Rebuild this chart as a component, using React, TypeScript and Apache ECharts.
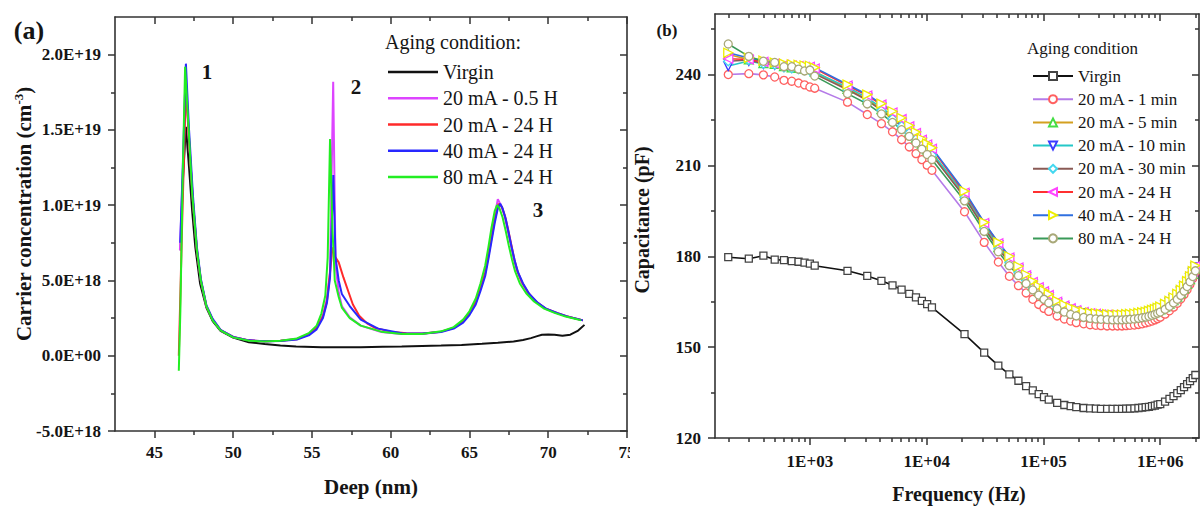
import React, { useEffect, useRef } from "react";
import * as echarts from "echarts";

const SERIF = '"Liberation Serif", "Times New Roman", serif';
const AX = "#333";
const TXT = "#151515";

// ---------- Panel (a): carrier concentration vs depth (values in 1E18 cm^-3) ----------
const deepTicks = [45, 50, 55, 60, 65, 70, 75];
const deepMinorTicks = [47.5, 52.5, 57.5, 62.5, 67.5, 72.5];
const carrierTicks = [-5, 0, 5, 10, 15, 20];
const carrierMinorTicks = [-2.5, 2.5, 7.5, 12.5, 17.5];
const deepNames = ["Virgin", "20 mA - 0.5 H", "20 mA - 24 H", "40 mA - 24 H", "80 mA - 24 H"];
const deepColors = ["#111111", "#dd44ff", "#ff2a2a", "#2828ff", "#22ee22"];

const virginDeep: [number, number][] = [
  [46.66, 7.0], [46.8, 11.5], [47.0, 15.2], [47.2, 12.5], [47.4, 9.6], [47.6, 7.2], [47.9, 4.8],
  [48.3, 3.2], [48.7, 2.3], [49.2, 1.65], [50.0, 1.2], [51.0, 0.9], [52.0, 0.78], [53.0, 0.68],
  [54.0, 0.62], [55.6, 0.57], [57.0, 0.56], [58.1, 0.57], [59.5, 0.6], [60.7, 0.62], [62.0, 0.65],
  [63.2, 0.68], [64.5, 0.72], [65.8, 0.79], [66.8, 0.86], [67.8, 0.95], [68.4, 1.05], [68.9, 1.17],
  [69.3, 1.3], [69.6, 1.39], [70.0, 1.41], [70.4, 1.39], [70.9, 1.32], [71.4, 1.4], [71.9, 1.67],
  [72.3, 2.05],
];
const mA20h05Deep: [number, number][] = [
  [46.62, 7.0], [46.8, 12.0], [47.0, 18.0], [47.2, 14.5], [47.45, 10.2], [47.7, 7.0], [47.95, 5.0],
  [48.3, 3.3], [48.7, 2.4], [49.2, 1.7], [50.0, 1.25], [51.0, 1.02], [52.0, 0.95], [53.0, 1.0],
  [54.05, 1.12], [54.8, 1.45], [55.3, 1.9], [55.7, 2.7], [55.95, 3.8], [56.15, 5.6], [56.35, 18.2],
  [56.5, 6.0], [56.7, 4.2], [56.9, 3.3], [57.4, 2.55], [58.1, 2.0], [59.4, 1.58], [60.7, 1.45],
  [62.0, 1.45], [63.2, 1.6], [64.0, 1.85], [64.6, 2.3], [65.0, 2.8], [65.4, 3.6], [65.7, 4.5],
  [66.0, 5.6], [66.2, 6.8], [66.4, 8.0], [66.6, 9.3], [66.8, 10.4], [67.0, 10.0], [67.2, 9.4],
  [67.4, 8.5], [67.6, 7.5], [67.8, 6.5], [68.0, 5.7], [68.3, 4.9], [68.7, 4.2], [69.2, 3.6],
  [69.8, 3.15], [70.5, 2.85], [71.2, 2.6], [71.8, 2.45], [72.2, 2.35],
];
const mA20h24Deep: [number, number][] = [
  [46.55, 0], [46.78, 9.5], [47.0, 17.8], [47.2, 14.3], [47.45, 10.2], [47.7, 7.0], [47.95, 5.0],
  [48.3, 3.3], [48.7, 2.4], [49.2, 1.7], [50.0, 1.25], [51.0, 1.02], [52.0, 0.96], [53.0, 1.0],
  [54.05, 1.1], [54.8, 1.4], [55.3, 1.85], [55.7, 2.6], [55.95, 3.6], [56.15, 5.5], [56.3, 7.2],
  [56.45, 6.6], [56.7, 6.2], [57.0, 5.2], [57.3, 4.3], [57.6, 3.4], [58.0, 2.65], [58.5, 2.15],
  [59.0, 1.85], [60.0, 1.6], [61.0, 1.5], [62.0, 1.48], [63.2, 1.6], [64.0, 1.84], [64.6, 2.28],
  [65.0, 2.78], [65.4, 3.55], [65.7, 4.45], [66.0, 5.5], [66.2, 6.6], [66.4, 7.8], [66.6, 9.0],
  [66.85, 10.1], [67.05, 9.9], [67.25, 9.3], [67.45, 8.4], [67.65, 7.4], [67.85, 6.4], [68.05, 5.6],
  [68.35, 4.85], [68.75, 4.15], [69.25, 3.58], [69.85, 3.12], [70.55, 2.84], [71.25, 2.6],
  [71.8, 2.45], [72.2, 2.35],
];
const mA40h24Deep: [number, number][] = [
  [46.64, 7.5], [46.8, 12.5], [47.0, 19.4], [47.2, 15.0], [47.45, 10.6], [47.7, 7.2], [47.95, 5.1],
  [48.3, 3.35], [48.7, 2.45], [49.2, 1.72], [50.0, 1.25], [51.0, 1.02], [52.0, 0.96], [53.0, 0.98],
  [54.05, 1.08], [54.8, 1.35], [55.3, 1.75], [55.7, 2.5], [55.95, 3.5], [56.15, 5.2], [56.36, 12.0],
  [56.5, 6.5], [56.7, 5.0], [56.9, 4.1], [57.4, 3.3], [58.1, 2.4], [59.2, 1.8], [60.7, 1.5],
  [62.0, 1.48], [63.2, 1.58], [64.0, 1.8], [64.6, 2.2], [65.0, 2.7], [65.4, 3.4], [65.7, 4.3],
  [66.0, 5.3], [66.2, 6.4], [66.4, 7.6], [66.6, 8.8], [66.8, 9.8], [66.95, 10.1], [67.1, 9.8],
  [67.3, 9.1], [67.5, 8.1], [67.7, 7.1], [67.9, 6.2], [68.1, 5.5], [68.4, 4.8], [68.8, 4.1],
  [69.3, 3.55], [69.9, 3.1], [70.6, 2.82], [71.3, 2.58], [71.8, 2.45], [72.2, 2.35],
];
const mA80h24Deep: [number, number][] = [
  [46.55, -1.0], [46.65, 3.0], [46.8, 12.0], [46.95, 19.2], [47.15, 15.5], [47.4, 10.8], [47.7, 7.0],
  [47.95, 5.0], [48.3, 3.3], [48.7, 2.35], [49.2, 1.68], [50.0, 1.22], [51.0, 1.0], [52.0, 0.95],
  [53.0, 1.0], [54.05, 1.15], [54.8, 1.5], [55.3, 2.0], [55.6, 2.8], [55.85, 4.0], [56.0, 6.5],
  [56.15, 14.4], [56.3, 8.5], [56.45, 5.0], [56.7, 3.9], [56.9, 3.2], [57.4, 2.5], [58.1, 2.0],
  [59.4, 1.6], [60.7, 1.45], [62.0, 1.45], [63.2, 1.62], [64.0, 1.9], [64.6, 2.4], [65.0, 2.95],
  [65.4, 3.8], [65.7, 4.8], [66.0, 6.0], [66.2, 7.2], [66.4, 8.5], [66.6, 9.6], [66.75, 10.0],
  [66.9, 9.8], [67.1, 9.2], [67.3, 8.3], [67.5, 7.3], [67.7, 6.4], [67.9, 5.6], [68.2, 4.8],
  [68.6, 4.15], [69.1, 3.6], [69.7, 3.15], [70.4, 2.85], [71.1, 2.6], [71.7, 2.45], [72.1, 2.35],
];
const deepSeries = [virginDeep, mA20h05Deep, mA20h24Deep, mA40h24Deep, mA80h24Deep];

// ---------- Panel (b): capacitance vs frequency ----------
const FREQ_MIN = 154;
const FREQ_MAX = 2.15e6;
const freqMajorTicks = [1e3, 1e4, 1e5, 1e6];
const freqMinorTicks = [
  200, 300, 400, 500, 600, 700, 800, 900,
  2000, 3000, 4000, 5000, 6000, 7000, 8000, 9000,
  20000, 30000, 40000, 50000, 60000, 70000, 80000, 90000,
  200000, 300000, 400000, 500000, 600000, 700000, 800000, 900000, 2000000,
];
const capTicks = [120, 150, 180, 210, 240];
const capMinorTicks = [135, 165, 195, 225, 255];

const freqHz = [
  200, 300, 400, 500, 600, 700, 800, 900, 1000, 1100,
  2100, 3100, 4100, 5100, 6100, 7100, 8100, 9100, 10100, 11100,
  21100, 31100, 41100, 51100, 61100, 71100, 81100, 91100, 101100, 111100,
  131100, 151100, 171100, 191100, 221100, 251100, 281100, 311100, 351100, 391100, 431100,
  471100, 511100, 551100, 601100, 651100, 701100, 751100, 801100, 851100, 901100, 951100,
  1001100, 1101100, 1201100, 1301100, 1401100, 1501100, 1601100, 1701100, 1801100, 1901100, 2001100,
];
const capVirgin = [
  179.7, 179.2, 180.2, 178.9, 178.7, 178.4, 178.2, 177.9, 177.6, 176.9,
  175.2, 173.5, 171.9, 170.4, 169.0, 167.6, 166.4, 165.3, 164.2, 163.1,
  154.3, 148.2, 143.9, 141.0, 138.9, 137.1, 135.7, 134.5, 133.5, 132.7,
  131.6, 130.9, 130.5, 130.2, 129.9, 129.8, 129.7, 129.6, 129.6, 129.6, 129.6,
  129.6, 129.7, 129.7, 129.8, 129.9, 130.0, 130.2, 130.3, 130.5, 130.7, 131.0,
  131.2, 132.0, 132.9, 133.8, 134.8, 135.8, 136.8, 137.8, 138.8, 139.8, 140.8,
];
const cap20m1 = [
  240.0, 240.3, 239.9, 239.2, 238.1, 237.8, 237.2, 236.6, 235.9, 235.5,
  230.9, 226.8, 223.8, 221.1, 218.5, 216.1, 213.9, 211.9, 210.1, 208.4,
  194.7, 184.6, 178.1, 173.4, 170.3, 167.9, 165.8, 164.1, 162.8, 161.8,
  160.3, 159.3, 158.6, 158.1, 157.7, 157.4, 157.2, 157.1, 157.0, 157.0, 157.0,
  157.0, 157.1, 157.2, 157.3, 157.5, 157.7, 158.0, 158.3, 158.6, 159.0, 159.4,
  159.9, 160.9, 162.0, 163.2, 164.5, 165.9, 167.4, 169.0, 170.8, 172.7, 174.8,
];
const cap20m5 = [
  246.6, 245.0, 243.8, 243.5, 242.8, 242.4, 242.2, 242.0, 241.8, 241.0,
  235.3, 231.8, 228.6, 225.8, 223.4, 221.2, 219.1, 217.1, 215.3, 213.8,
  200.0, 189.8, 183.0, 178.4, 175.1, 172.5, 170.3, 168.6, 167.2, 166.0,
  164.0, 162.8, 162.0, 161.4, 160.9, 160.5, 160.3, 160.1, 160.0, 159.9, 159.9,
  159.9, 160.0, 160.1, 160.2, 160.4, 160.6, 160.8, 161.1, 161.4, 161.7, 162.1,
  162.5, 163.4, 164.4, 165.5, 166.7, 168.0, 169.4, 170.9, 172.5, 174.2, 176.0,
];
const cap20m10 = [
  242.8, 244.5, 243.5, 243.2, 242.6, 242.3, 242.0, 241.8, 241.6, 240.8,
  235.8, 232.3, 229.1, 226.3, 223.9, 221.7, 219.6, 217.6, 215.8, 214.3,
  200.5, 190.4, 183.6, 178.9, 175.6, 173.0, 170.8, 169.1, 167.7, 166.5,
  164.4, 163.2, 162.3, 161.7, 161.2, 160.8, 160.6, 160.4, 160.3, 160.2, 160.2,
  160.2, 160.3, 160.4, 160.5, 160.7, 160.9, 161.1, 161.4, 161.7, 162.0, 162.4,
  162.8, 163.7, 164.7, 165.8, 167.0, 168.3, 169.7, 171.2, 172.8, 174.5, 176.3,
];
const cap20m30 = [
  244.4, 244.8, 243.6, 243.3, 242.4, 242.1, 241.8, 241.5, 241.3, 240.3,
  235.0, 231.5, 228.2, 225.4, 223.0, 220.8, 218.7, 216.7, 214.9, 213.4,
  199.5, 189.3, 182.5, 177.9, 174.6, 172.0, 169.8, 168.1, 166.7, 165.5,
  163.5, 162.3, 161.5, 160.9, 160.4, 160.1, 159.9, 159.7, 159.6, 159.5, 159.5,
  159.5, 159.6, 159.7, 159.8, 160.0, 160.2, 160.4, 160.7, 161.0, 161.3, 161.7,
  162.1, 163.0, 164.0, 165.1, 166.3, 167.6, 169.0, 170.5, 172.1, 173.8, 175.6,
];
const cap20h24 = [
  245.2, 245.0, 244.2, 243.6, 243.2, 243.0, 242.8, 242.6, 242.6, 242.0,
  236.4, 233.1, 230.1, 227.5, 225.3, 222.9, 220.7, 218.5, 216.9, 215.5,
  201.0, 191.0, 184.3, 179.6, 176.3, 173.7, 171.5, 169.8, 168.4, 167.2,
  165.0, 163.7, 162.8, 162.2, 161.6, 161.2, 161.0, 160.8, 160.7, 160.6, 160.6,
  160.6, 160.7, 160.8, 160.9, 161.1, 161.3, 161.5, 161.8, 162.1, 162.4, 162.8,
  163.2, 164.1, 165.1, 166.2, 167.4, 168.7, 170.1, 171.6, 173.2, 174.9, 176.7,
];
const cap40h24 = [
  247.2, 245.5, 244.6, 244.0, 243.6, 243.4, 243.2, 243.0, 242.9, 242.3,
  236.7, 233.4, 230.4, 227.9, 225.7, 223.2, 221.0, 218.8, 217.2, 215.8,
  201.5, 191.2, 184.6, 180.0, 176.7, 174.0, 171.8, 170.1, 168.7, 167.5,
  165.3, 164.0, 163.1, 162.4, 161.8, 161.4, 161.2, 161.0, 160.9, 160.8, 160.8,
  160.8, 160.9, 161.0, 161.1, 161.3, 161.5, 161.7, 162.0, 162.3, 162.6, 163.0,
  163.4, 164.3, 165.3, 166.4, 167.6, 168.9, 170.3, 171.8, 173.4, 175.1, 176.9,
];
const cap80h24 = [
  250.1, 246.0, 244.4, 244.0, 242.6, 242.6, 241.8, 241.2, 241.5, 239.5,
  233.7, 230.3, 227.0, 224.2, 221.8, 219.6, 217.4, 215.4, 213.6, 211.9,
  198.3, 188.2, 181.5, 176.9, 173.6, 171.0, 168.9, 167.2, 165.8, 164.6,
  162.7, 161.6, 160.8, 160.3, 159.8, 159.5, 159.3, 159.2, 159.1, 159.0, 159.0,
  159.0, 159.1, 159.2, 159.3, 159.5, 159.7, 159.9, 160.2, 160.5, 160.8, 161.2,
  161.6, 162.5, 163.5, 164.6, 165.8, 167.1, 168.5, 170.0, 171.6, 173.3, 175.2,
];
const capNames = [
  "Virgin", "20 mA - 1 min", "20 mA - 5 min", "20 mA - 10 min",
  "20 mA - 30 min", "20 mA - 24 H", "40 mA - 24 H", "80 mA - 24 H",
];
const capValues = [capVirgin, cap20m1, cap20m5, cap20m10, cap20m30, cap20h24, cap40h24, cap80h24];
const capLineColors = ["#111111", "#b57be8", "#d4a020", "#25c8c8", "#8a5a55", "#ff3030", "#3070e0", "#3a9a58"];
const capMarkColors = ["#444444", "#ff6060", "#44dd44", "#3b3bff", "#44d8f0", "#ff44ff", "#eeee00", "#a8a878"];
const capSymbols = ["rect", "circle", "triangle", "triangle", "diamond", "triangle", "triangle", "circle"];
const capRotate = [0, 0, 0, 180, 0, 90, -90, 0];
const capSizes = [7, 8, 9, 9, 9, 9, 9, 8];

// ---------- helpers ----------
function sci(v: number): string {
  if (Math.abs(v) < 1e-9) return "0.0E+00";
  const val = v * 1e18;
  const exp = Math.floor(Math.log10(Math.abs(val)) + 1e-9);
  const mant = val / Math.pow(10, exp);
  return `${mant.toFixed(1)}E+${exp}`;
}

const labelBase = { color: TXT, fontFamily: SERIF, fontWeight: 700, fontSize: 17 };

function frameAxis(o: any) {
  return {
    type: o.type || "value",
    logBase: 10,
    position: o.position,
    min: o.min,
    max: o.max,
    silent: true,
    axisLine: { show: !!o.line, onZero: false, lineStyle: { color: AX, width: 1.6 } },
    axisTick: o.ticks
      ? { show: true, customValues: o.ticks, length: o.len, inside: !!o.inside, lineStyle: { color: AX, width: 1.5 } }
      : { show: false },
    axisLabel: o.labels ? { show: true, ...labelBase, ...o.labels } : { show: false },
    splitLine: { show: false },
    minorTick: { show: false },
    axisPointer: { show: false },
  };
}

function txt(x: number, y: number, text: string, size: number, extra: any = {}) {
  return {
    type: "text",
    x,
    y,
    silent: true,
    rotation: extra.rotation || 0,
    style: {
      text,
      fill: TXT,
      fontFamily: SERIF,
      fontSize: size,
      fontWeight: extra.weight || "bold",
      align: extra.align || "center",
      verticalAlign: "middle",
    },
  };
}

// ---------- options ----------
const optionA: any = {
  animation: false,
  grid: { left: 115, right: 3, top: 17, bottom: 76, containLabel: false, outerBoundsMode: "none" },
  xAxis: [
    frameAxis({ position: "bottom", min: 42.5, max: 75, line: true, ticks: deepTicks, len: 7,
      labels: { customValues: deepTicks, margin: 13 } }),
    frameAxis({ position: "bottom", min: 42.5, max: 75, ticks: deepMinorTicks, len: 4 }),
    frameAxis({ position: "top", min: 42.5, max: 75, line: true, ticks: deepTicks, len: 7, inside: true }),
    frameAxis({ position: "top", min: 42.5, max: 75, ticks: deepMinorTicks, len: 4, inside: true }),
  ],
  yAxis: [
    frameAxis({ position: "left", min: -5, max: 22.5, line: true, ticks: carrierTicks, len: 7,
      labels: { customValues: carrierTicks, margin: 14, formatter: (v: number) => sci(v) } }),
    frameAxis({ position: "left", min: -5, max: 22.5, ticks: carrierMinorTicks, len: 4 }),
    frameAxis({ position: "right", min: -5, max: 22.5, line: true, ticks: carrierTicks, len: 7, inside: true }),
    frameAxis({ position: "right", min: -5, max: 22.5, ticks: carrierMinorTicks, len: 4, inside: true }),
  ],
  legend: {
    orient: "vertical",
    left: 383,
    top: 54,
    itemWidth: 50,
    itemHeight: 2.5,
    itemGap: 0,
    icon: "rect",
    selectedMode: false,
    textStyle: { color: TXT, fontFamily: SERIF, fontSize: 20, lineHeight: 26.2 },
    data: deepNames,
  },
  series: deepSeries.map((d, i) => ({
    type: "line",
    name: deepNames[i],
    data: d,
    symbol: "none",
    xAxisIndex: 0,
    yAxisIndex: 0,
    lineStyle: { color: deepColors[i], width: 2 },
    itemStyle: { color: deepColors[i] },
    silent: true,
  })),
  graphic: [
    txt(29, 30, "(a)", 26),
    txt(207, 72, "1", 21),
    txt(356, 87, "2", 21),
    txt(538, 210, "3", 21),
    txt(385, 42, "Aging condition:", 20, { align: "left", weight: "normal" }),
    txt(371, 487, "Deep (nm)", 21),
    {
      type: "text",
      x: 24,
      y: 214,
      rotation: Math.PI / 2,
      silent: true,
      style: {
        text: "{t|Carrier concentration (cm}{s|-3}{t|)}",
        align: "center",
        verticalAlign: "middle",
        rich: {
          t: { fontFamily: SERIF, fontWeight: "bold", fontSize: 21, fill: TXT, lineHeight: 24 },
          s: { fontFamily: SERIF, fontWeight: "bold", fontSize: 13, fill: TXT, lineHeight: 13, verticalAlign: "top" },
        },
      },
    },
  ],
};

const lmin = Math.log10(FREQ_MIN);
const lmax = Math.log10(FREQ_MAX);
const optionB: any = {
  animation: false,
  grid: { left: 85, right: 1, top: 14, bottom: 69, containLabel: false, outerBoundsMode: "none" },
  xAxis: [
    frameAxis({ type: "log", position: "bottom", min: FREQ_MIN, max: FREQ_MAX, line: true }),
    frameAxis({ position: "bottom", min: lmin, max: lmax, ticks: freqMajorTicks.map(Math.log10), len: 7,
      labels: { customValues: freqMajorTicks.map(Math.log10), margin: 15,
        formatter: (v: number) => "1E+" + String(Math.round(v)).padStart(2, "0") } }),
    frameAxis({ position: "bottom", min: lmin, max: lmax, ticks: freqMinorTicks.map(Math.log10), len: 4 }),
    frameAxis({ position: "top", min: lmin, max: lmax, line: true, ticks: freqMajorTicks.map(Math.log10), len: 7, inside: true }),
    frameAxis({ position: "top", min: lmin, max: lmax, ticks: freqMinorTicks.map(Math.log10), len: 4, inside: true }),
  ],
  yAxis: [
    frameAxis({ position: "left", min: 120, max: 260, line: true, ticks: capTicks, len: 7,
      labels: { customValues: capTicks, margin: 14 } }),
    frameAxis({ position: "left", min: 120, max: 260, ticks: capMinorTicks, len: 4 }),
    frameAxis({ position: "right", min: 120, max: 260, line: true, ticks: capTicks, len: 7, inside: true }),
    frameAxis({ position: "right", min: 120, max: 260, ticks: capMinorTicks, len: 4, inside: true }),
  ],
  legend: {
    orient: "vertical",
    left: 397,
    top: 59.4,
    itemWidth: 40,
    itemHeight: 10,
    itemGap: 0,
    selectedMode: false,
    textStyle: { color: TXT, fontFamily: SERIF, fontSize: 17, lineHeight: 23.2 },
    data: capNames,
  },
  series: capValues.map((vals, i) => ({
    type: "line",
    name: capNames[i],
    data: freqHz.map((f, k) => [f, vals[k]]),
    xAxisIndex: 0,
    yAxisIndex: 0,
    symbol: capSymbols[i],
    symbolSize: capSizes[i],
    symbolRotate: capRotate[i],
    showSymbol: true,
    lineStyle: { color: capLineColors[i], width: 1.6 },
    itemStyle: { color: "#ffffff", borderColor: capMarkColors[i], borderWidth: 1.3 },
    silent: true,
  })),
  graphic: [
    txt(37, 30, "(b)", 17),
    txt(397, 48, "Aging condition", 17, { align: "left", weight: "normal" }),
    txt(329, 494, "Frequency (Hz)", 20),
    txt(12, 220, "Capacitance (pF)", 20, { rotation: Math.PI / 2 }),
  ],
};

function Panel({ option, left, width }: { option: any; left: number; width: number }) {
  const ref = useRef<HTMLDivElement>(null);
  useEffect(() => {
    const chart = echarts.init(ref.current as HTMLDivElement, null, { renderer: "svg" });
    chart.setOption(option);
    return () => chart.dispose();
  }, [option]);
  return (
    <div
      ref={ref}
      style={{ position: "absolute", left, top: 0, width, height: 507, overflow: "hidden" }}
    />
  );
}

export default function App() {
  return (
    <div style={{ position: "fixed", left: 0, top: 0, width: 1200, height: 507, background: "#ffffff" }}>
      <Panel option={optionA} left={0} width={630} />
      <Panel option={optionB} left={630} width={570} />
    </div>
  );
}
